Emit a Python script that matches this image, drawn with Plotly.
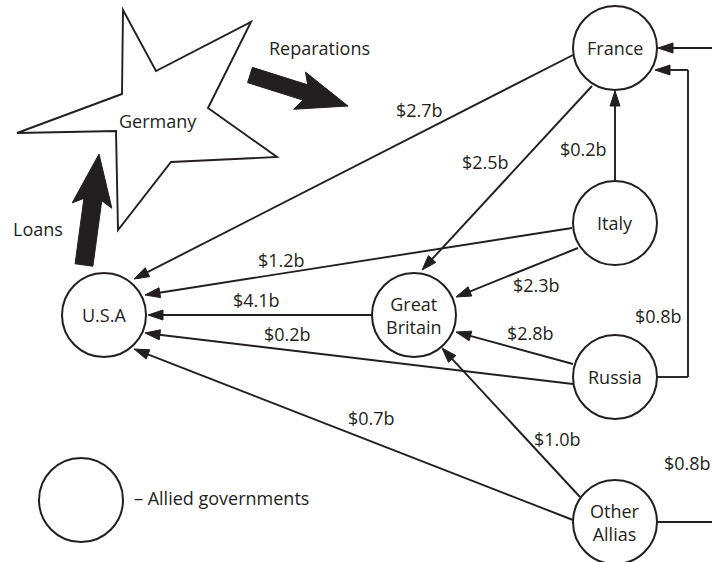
import plotly.graph_objects as go
import math

W, H = 712, 562
INK = "#231f20"
FONT = "Open Sans"
FS = 18

# ---- nodes (Allied governments) ----
node_names = ["France", "Italy", "U.S.A", "Great<br>Britain", "Russia", "Other<br>Allias"]
node_x = [615, 615, 104, 414, 615, 615]
node_y = [48, 223, 315, 315, 377, 522]
node_r = 42

# ---- debt flows: labels and drawn line endpoints ----
flow_labels = ["$2.7b", "$2.5b", "$0.2b", "$1.2b", "$2.3b", "$4.1b",
               "$0.2b", "$2.8b", "$0.7b", "$1.0b"]
flow_from = ["France", "France", "Italy", "Italy", "Italy", "Great Britain",
             "Russia", "Russia", "Other Allias", "Other Allias"]
flow_to = ["U.S.A", "Great Britain", "France", "U.S.A", "Great Britain", "U.S.A",
           "U.S.A", "Great Britain", "U.S.A", "Great Britain"]
flow_x0 = [573, 592, 615, 572, 578, 372, 573, 573, 573, 580]
flow_y0 = [55, 86, 181, 228, 248, 315, 384, 364, 520, 497]
flow_x1 = [134, 422, 615, 145, 456, 148, 145, 456, 134, 442]
flow_y1 = [279, 270, 91, 295, 297, 315, 333, 332, 349, 348]
label_x = [419, 485, 583, 281, 536, 256, 287, 530, 371, 557]
label_y = [110, 162, 149, 260, 285, 300, 334, 333, 418, 439]

# elbow flows (Russia -> France, Other Allias -> France via right edge)
elbow_labels = ["$0.8b", "$0.8b"]
elbow_label_x = [658, 687]
elbow_label_y = [316, 463]

fig = go.Figure()
fig.add_trace(go.Scatter(x=[0, W], y=[0, H], mode="markers",
                         marker=dict(opacity=0), hoverinfo="skip", showlegend=False))

shapes = []
annots = []


def text(x, y, s, size=FS, xanchor="center"):
    annots.append(dict(x=x, y=y, text=s, showarrow=False, xref="x", yref="y",
                       xanchor=xanchor, yanchor="middle",
                       font=dict(family=FONT, size=size, color=INK)))


def line(x0, y0, x1, y1, w=1.9):
    shapes.append(dict(type="line", x0=x0, y0=y0, x1=x1, y1=y1, xref="x", yref="y",
                       line=dict(color=INK, width=w)))


def head(x0, y0, x1, y1, L=15, hw=5):
    dx, dy = x1 - x0, y1 - y0
    n = math.hypot(dx, dy)
    ux, uy = dx / n, dy / n
    px, py = -uy, ux
    bx, by = x1 - ux * L, y1 - uy * L
    p = f"M {x1},{y1} L {bx + px * hw},{by + py * hw} L {bx - px * hw},{by - py * hw} Z"
    shapes.append(dict(type="path", path=p, xref="x", yref="y",
                       fillcolor=INK, line=dict(color=INK, width=1)))


def arrow(x0, y0, x1, y1):
    dx, dy = x1 - x0, y1 - y0
    n = math.hypot(dx, dy)
    line(x0, y0, x1 - dx / n * 8, y1 - dy / n * 8)
    head(x0, y0, x1, y1)


def big_arrow(tx, ty, hx, hy, bw, hwid, barb_u, join_u):
    dx, dy = hx - tx, hy - ty
    n = math.hypot(dx, dy)
    ux, uy = dx / n, dy / n
    px, py = -uy, ux

    def P(u, v):
        return f"{tx + ux * u + px * v},{ty + uy * u + py * v}"
    pts = [P(0, -bw), P(join_u, -bw), P(barb_u, -hwid), P(n, 0),
           P(barb_u, hwid), P(join_u, bw), P(0, bw)]
    shapes.append(dict(type="path", path="M " + " L ".join(pts) + " Z",
                       xref="x", yref="y", fillcolor=INK, line=dict(color=INK, width=1)))


# circles
for name, cx, cy in zip(node_names, node_x, node_y):
    shapes.append(dict(type="circle", x0=cx - node_r, x1=cx + node_r,
                       y0=cy - node_r, y1=cy + node_r, xref="x", yref="y",
                       line=dict(color=INK, width=2), fillcolor="white", layer="above"))
    text(cx, cy, name)

# legend circle
shapes.append(dict(type="circle", x0=81 - node_r, x1=81 + node_r, y0=500 - node_r, y1=500 + node_r,
                   xref="x", yref="y", line=dict(color=INK, width=2)))
text(132, 498, "– Allied governments", xanchor="left")

# straight flows
for x0, y0, x1, y1, lab, lx, ly in zip(flow_x0, flow_y0, flow_x1, flow_y1,
                                       flow_labels, label_x, label_y):
    arrow(x0, y0, x1, y1)
    text(lx, ly, lab)

# Russia -> France elbow
line(657, 377, 688, 377)
line(688, 377, 688, 70)
arrow(688, 70, 655, 70)
text(elbow_label_x[0], elbow_label_y[0], elbow_labels[0])

# Other Allias -> France (routed off the right edge)
line(657, 522, 712, 522)
arrow(712, 48, 658, 48)
text(elbow_label_x[1], elbow_label_y[1], elbow_labels[1])

# Germany star
star_x = [123, 156, 251, 208, 277, 171, 118, 116, 17, 122]
star_y = [10, 71, 22, 108, 157, 162, 230, 131, 133, 94]
sp = "M " + " L ".join(f"{x},{y}" for x, y in zip(star_x, star_y)) + " Z"
shapes.append(dict(type="path", path=sp, xref="x", yref="y",
                   line=dict(color=INK, width=1.9), fillcolor="white"))
text(158, 121, "Germany")

# thick arrows
big_arrow(250, 75, 348, 106, 8, 19.5, 52, 58)
text(319, 48, "Reparations")
big_arrow(84, 265, 99, 154, 9, 20, 60, 66)
text(38, 229, "Loans")

fig.update_layout(
    width=W, height=H, margin=dict(l=0, r=0, t=0, b=0),
    paper_bgcolor="white", plot_bgcolor="white",
    xaxis=dict(range=[0, W], visible=False, fixedrange=True),
    yaxis=dict(range=[H, 0], visible=False, fixedrange=True),
    shapes=shapes, annotations=annots, showlegend=False,
)
fig.write_html(
    "out.html",
    config={"displayModeBar": False},
    post_script="document.body.style.margin='0';document.body.style.overflow='hidden';",
)
